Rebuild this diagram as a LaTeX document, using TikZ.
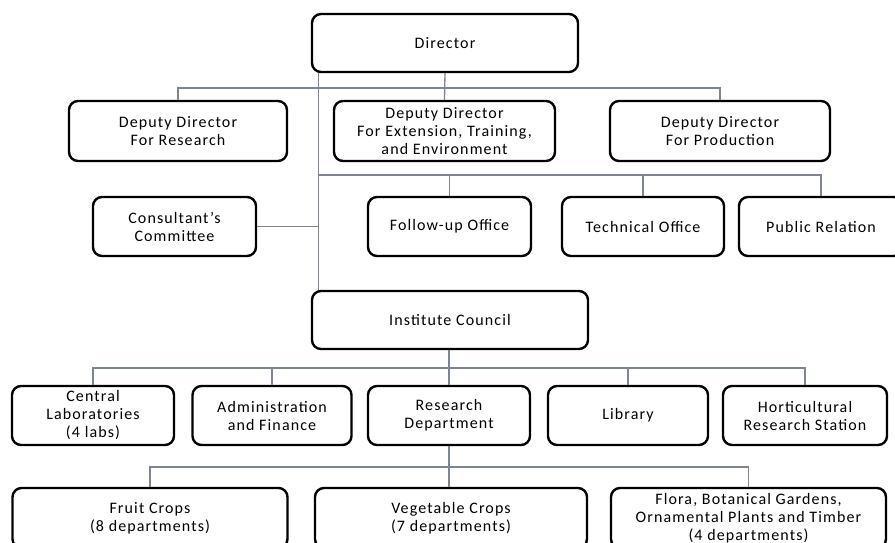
\documentclass[tikz,border=0pt]{standalone}
\usepackage{fontspec}
\setmainfont{Carlito}[LetterSpace=7]
\definecolor{linkgray}{RGB}{125,132,146}
\tikzset{
  unit/.style={draw=black, line width=2.4pt, rounded corners=9pt, fill=white,
    align=center, inner sep=0pt, font=\fontsize{16}{18}\selectfont},
  link/.style={draw=linkgray, line width=1.3pt}
}
\begin{document}
\begin{tikzpicture}[x=1pt, y=-1pt]
\useasboundingbox (0,0) rectangle (895,542);
\clip (0,0) rectangle (895,542);
\fill[white] (0,0) rectangle (895,542);

% bus levels
\coordinate (busA) at (0,88);
\coordinate (busB) at (0,175);
\coordinate (busC) at (0,368);
\coordinate (busD) at (0,467);

% top management
\node[unit, minimum width=266pt, minimum height=58pt] (dir) at (445,43) {Director};
\node[unit, minimum width=218pt, minimum height=60pt] (ddr) at (178,131) {Deputy Director\\For Research};
\node[unit, minimum width=221pt, minimum height=60pt] (dde) at (444.5,131) {Deputy Director\\For Extension, Training,\\and Environment};
\node[unit, minimum width=220pt, minimum height=60pt] (ddp) at (720,131) {Deputy Director\\For Production};

% offices
\node[unit, minimum width=163pt, minimum height=59pt] (cons) at (174.5,226.5) {Consultant's\\Committee};
\node[unit, minimum width=163pt, minimum height=59pt] (fup) at (449.5,226.5) {Follow-up Office};
\node[unit, minimum width=162pt, minimum height=59pt] (tech) at (643,226.5) {Technical Office};
\node[unit, minimum width=164pt, minimum height=59pt] (pr) at (821,226.5) {Public Relation};

% council
\node[unit, minimum width=276pt, minimum height=58pt] (ic) at (450,320) {Institute Council};

% units under the council
\node[unit, minimum width=162pt, minimum height=59pt] (cl) at (93,415.5) {Central\\Laboratories\\(4 labs)};
\node[unit, minimum width=159pt, minimum height=59pt] (adm) at (272,415.5) {Administration\\and Finance};
\node[unit, minimum width=162pt, minimum height=59pt] (rd) at (449,415.5) {Research\\Department};
\node[unit, minimum width=160pt, minimum height=59pt] (lib) at (628,415.5) {Library};
\node[unit, minimum width=164pt, minimum height=59pt] (hort) at (805,415.5) {Horticultural\\Research Station};

% research departments
\node[unit, minimum width=275pt, minimum height=60pt] (fruit) at (150,518) {Fruit Crops\\(8 departments)};
\node[unit, minimum width=272pt, minimum height=60pt] (veg) at (451,518) {Vegetable Crops\\(7 departments)};
\node[unit, minimum width=275pt, minimum height=60pt] (flora) at (748.5,518) {Flora, Botanical Gardens,\\Ornamental Plants and Timber\\(4 departments)};

% spine from the director down to the council
\coordinate (spineTop) at ([xshift=8pt]dir.south west);
\coordinate (spineBot) at ([xshift=8pt]ic.north west);
\draw[link] (spineTop) -- (spineBot);

% deputy directors
\draw[link] (dir.south) -- (dde.north);
\draw[link] (ddr.north) -- (ddr.north |- busA) -- (ddp.north |- busA) -- (ddp.north);

% offices
\draw[link] (spineTop |- busB) -- (pr.north |- busB) -- (pr.north);
\draw[link] (fup.north |- busB) -- (fup.north);
\draw[link] (tech.north |- busB) -- (tech.north);
\draw[link] (cons.east) -- (cons.east -| spineTop);

% council units
\draw[link] (ic.south -| rd.north) -- (rd.north);
\draw[link] (cl.north) -- (cl.north |- busC) -- (hort.north |- busC) -- (hort.north);
\draw[link] (adm.north |- busC) -- (adm.north);
\draw[link] (lib.north |- busC) -- (lib.north);

% research departments
\draw[link] (rd.south) -- (veg.north -| rd.south);
\draw[link] (fruit.north) -- (fruit.north |- busD) -- (flora.north |- busD) -- (flora.north);
\end{tikzpicture}
\end{document}
